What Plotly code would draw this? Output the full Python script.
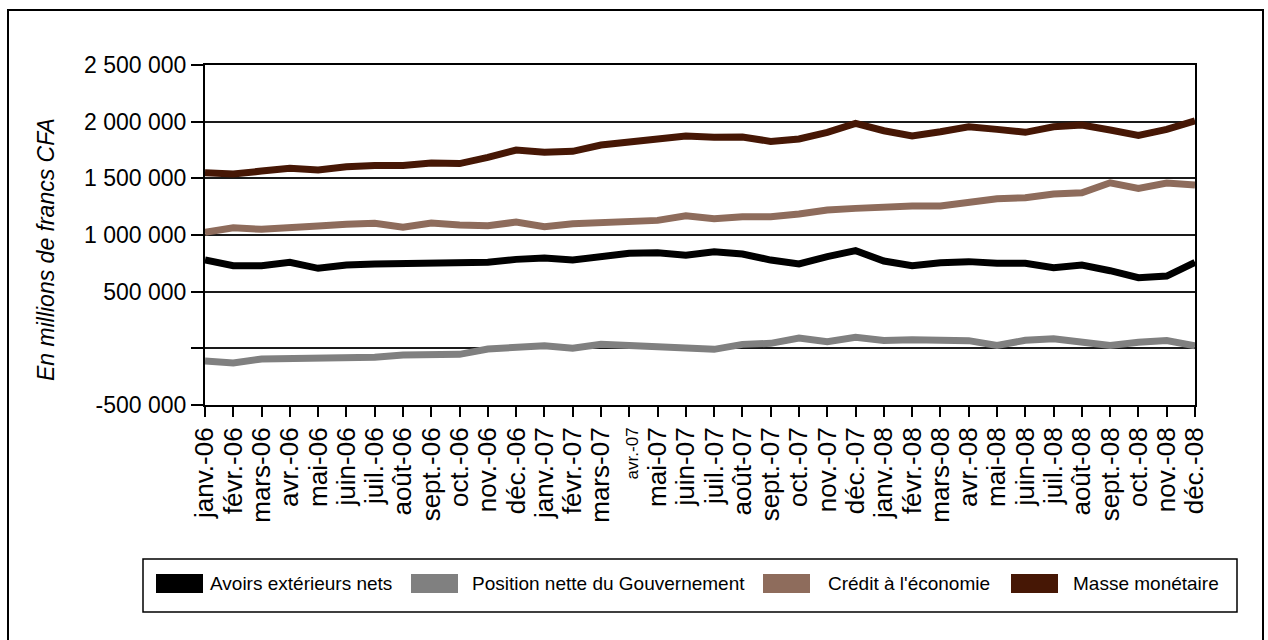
import plotly.graph_objects as go

# Monthly series, in millions of francs CFA
mois = ["janv.", "févr.", "mars", "avr.", "mai", "juin",
        "juil.", "août", "sept.", "oct.", "nov.", "déc."]
annees = ["06", "07", "08"]
periodes = [f"{m}-{a}" for a in annees for m in mois]

avoirs_exterieurs = [779000, 729000, 729000, 759000, 706000, 735000, 744000, 750000,
                     755000, 750000, 759000, 785000, 797000, 779000, 803000, 838000,
                     844000, 821000, 853000, 832000, 779000, 744000, 809000, 862000,
                     770000, 729000, 755000, 765000, 750000, 750000, 712000, 735000,
                     685000, 623000, 638000, 759000]
position_gouvernement = [-112000, -130000, -94000, -94000, -83000, -94000, -79000, -59000,
                         -56000, -53000, -6000, 3000, 23000, 0, 35000, 26000,
                         15000, 15000, -9000, 35000, 44000, 91000, 59000, 97000,
                         70000, 76000, 74000, 68000, 26000, 71000, 85000, 62000,
                         26000, 53000, 68000, 23000]
credit_economie = [1023000, 1064000, 1050000, 1059000, 1079000, 1094000, 1103000, 1068000,
                   1106000, 1088000, 1082000, 1114000, 1073000, 1100000, 1106000, 1114000,
                   1129000, 1170000, 1144000, 1161000, 1161000, 1185000, 1220000, 1235000,
                   1252000, 1256000, 1256000, 1291000, 1320000, 1329000, 1361000, 1373000,
                   1461000, 1411000, 1458000, 1441000]
masse_monetaire = [1549000, 1538000, 1564000, 1588000, 1573000, 1602000, 1614000, 1614000,
                   1635000, 1630000, 1685000, 1750000, 1730000, 1738000, 1794000, 1818000,
                   1850000, 1873000, 1862000, 1864000, 1826000, 1847000, 1906000, 1985000,
                   1920000, 1873000, 1911000, 1955000, 1932000, 1906000, 1955000, 1970000,
                   1926000, 1879000, 1932000, 2008000]

series = [
    ("Avoirs extérieurs nets", avoirs_exterieurs, "#000000"),
    ("Position nette du Gouvernement", position_gouvernement, "#808080"),
    ("Crédit à l'économie", credit_economie, "#8e6c5c"),
    ("Masse monétaire", masse_monetaire, "#461705"),
]

y_ticks = [-500000, 0, 500000, 1000000, 1500000, 2000000, 2500000]
y_ticktext = ["-500 000", "", "500 000", "1 000 000", "1 500 000", "2 000 000", "2 500 000"]

FONT = "Liberation Sans, Arial, sans-serif"

# page geometry (pixels)
W, H = 1268, 640
L, R, T, B = 205, 73, 65, 235
PW, PH = W - L - R, H - T - B


def px(x):
    return (x - L) / PW


def py(y):
    return (H - B - y) / PH


x_idx = list(range(len(periodes)))
x_text = [
    f'<span style="font-size:17px">{p}</span>' if p == "avr.-07" else p
    for p in periodes
]

fig = go.Figure()
for name, vals, color in series:
    fig.add_trace(go.Scatter(
        x=x_idx, y=vals, mode="lines", name=name,
        line=dict(color=color, width=7), showlegend=False,
    ))

shapes = [
    # outer frame
    dict(type="rect", xref="paper", yref="paper",
         x0=px(8), x1=px(1263), y0=py(10), y1=py(700),
         line=dict(color="black", width=2), layer="below"),
    # legend frame
    dict(type="rect", xref="paper", yref="paper",
         x0=px(143), x1=px(1237), y0=py(559), y1=py(612),
         line=dict(color="black", width=1.5)),
]
annotations = [
    dict(text="<i>En millions de francs CFA</i>", xref="paper", yref="paper",
         x=px(46), y=py(250), textangle=-90, showarrow=False,
         xanchor="center", yanchor="middle",
         font=dict(family=FONT, size=23, color="black")),
]

# legend entries: swatch left edge, text left edge
legend_pos = [(156, 208), (411, 470), (763, 826), (1011, 1071)]
for (name, _, color), (sx, tx) in zip(series, legend_pos):
    shapes.append(dict(type="rect", xref="paper", yref="paper",
                       x0=px(sx), x1=px(sx + 47), y0=py(574), y1=py(593),
                       fillcolor=color, line=dict(width=0)))
    annotations.append(dict(text=name, xref="paper", yref="paper",
                            x=px(tx), y=py(583), showarrow=False,
                            xanchor="left", yanchor="middle",
                            font=dict(family=FONT, size=19, color="black")))

fig.update_layout(
    template="none",
    width=W, height=H,
    margin=dict(l=L, r=R, t=T, b=B, pad=0),
    paper_bgcolor="white", plot_bgcolor="white",
    font=dict(family=FONT, color="black"),
    shapes=shapes, annotations=annotations,
    showlegend=False,
    xaxis=dict(
        range=[0, len(periodes) - 1], tickmode="array",
        tickvals=x_idx, ticktext=x_text, tickangle=-90,
        tickfont=dict(family=FONT, size=26, color="black"),
        ticks="outside", ticklen=10, tickwidth=1.5, tickcolor="black",
        showgrid=False, zeroline=False,
        showline=True, linecolor="black", linewidth=2, mirror=True,
        automargin=False,
    ),
    yaxis=dict(
        range=[-500000, 2500000], tickmode="array",
        tickvals=y_ticks, ticktext=y_ticktext,
        tickfont=dict(family=FONT, size=23, color="black"),
        ticks="outside", ticklen=12, tickwidth=1.5, tickcolor="black",
        showgrid=True, gridcolor="#1a1a1a", gridwidth=1.5,
        zeroline=False,
        showline=True, linecolor="black", linewidth=2, mirror=True,
        automargin=False,
    ),
)

fig.write_html("out.html")
